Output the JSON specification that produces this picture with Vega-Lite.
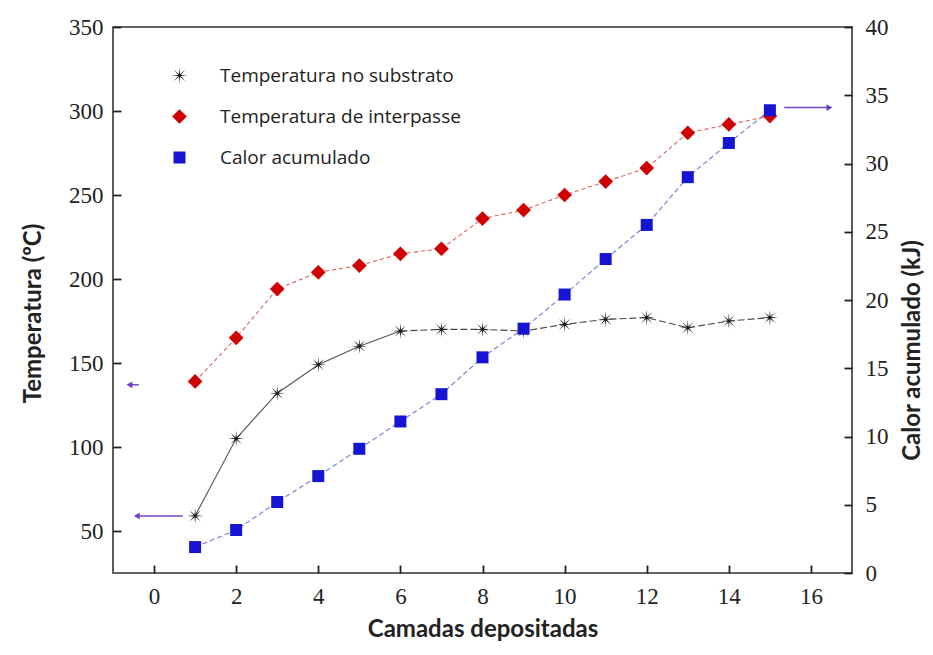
{
  "$schema": "https://vega.github.io/schema/vega-lite/v6.json",
  "width": 739,
  "height": 546,
  "autosize": {"type": "none"},
  "padding": {"left": 113, "top": 27, "right": 81, "bottom": 82},
  "background": "white",
  "config": {
    "view": {"stroke": "#333", "strokeWidth": 1.6},
    "axis": {
      "grid": false,
      "domain": false,
      "ticks": true,
      "offset": -8,
      "tickColor": "#222",
      "tickOpacity": 1,
      "tickWidth": 1.8,
      "tickSize": 8,
      "labelFont": "Liberation Serif",
      "labelFontSize": 23,
      "labelColor": "#222",
      "titleFont": "Lato",
      "titleFontWeight": "bold",
      "titleFontSize": 24,
      "titleColor": "#222"
    }
  },
  "datasets": {
    "medicoes": [
      {"camada": 1, "serie": "Temperatura no substrato", "valor": 59},
      {"camada": 2, "serie": "Temperatura no substrato", "valor": 105},
      {"camada": 3, "serie": "Temperatura no substrato", "valor": 132},
      {"camada": 4, "serie": "Temperatura no substrato", "valor": 149},
      {"camada": 5, "serie": "Temperatura no substrato", "valor": 160},
      {"camada": 6, "serie": "Temperatura no substrato", "valor": 169},
      {"camada": 7, "serie": "Temperatura no substrato", "valor": 170},
      {"camada": 8, "serie": "Temperatura no substrato", "valor": 170},
      {"camada": 9, "serie": "Temperatura no substrato", "valor": 169},
      {"camada": 10, "serie": "Temperatura no substrato", "valor": 173},
      {"camada": 11, "serie": "Temperatura no substrato", "valor": 176},
      {"camada": 12, "serie": "Temperatura no substrato", "valor": 177},
      {"camada": 13, "serie": "Temperatura no substrato", "valor": 171},
      {"camada": 14, "serie": "Temperatura no substrato", "valor": 175},
      {"camada": 15, "serie": "Temperatura no substrato", "valor": 177},
      {"camada": 1, "serie": "Temperatura de interpasse", "valor": 139},
      {"camada": 2, "serie": "Temperatura de interpasse", "valor": 165},
      {"camada": 3, "serie": "Temperatura de interpasse", "valor": 194},
      {"camada": 4, "serie": "Temperatura de interpasse", "valor": 204},
      {"camada": 5, "serie": "Temperatura de interpasse", "valor": 208},
      {"camada": 6, "serie": "Temperatura de interpasse", "valor": 215},
      {"camada": 7, "serie": "Temperatura de interpasse", "valor": 218},
      {"camada": 8, "serie": "Temperatura de interpasse", "valor": 236},
      {"camada": 9, "serie": "Temperatura de interpasse", "valor": 241},
      {"camada": 10, "serie": "Temperatura de interpasse", "valor": 250},
      {"camada": 11, "serie": "Temperatura de interpasse", "valor": 258},
      {"camada": 12, "serie": "Temperatura de interpasse", "valor": 266},
      {"camada": 13, "serie": "Temperatura de interpasse", "valor": 287},
      {"camada": 14, "serie": "Temperatura de interpasse", "valor": 292},
      {"camada": 15, "serie": "Temperatura de interpasse", "valor": 297},
      {"camada": 1, "serie": "Calor acumulado", "valor": 1.9},
      {"camada": 2, "serie": "Calor acumulado", "valor": 3.15},
      {"camada": 3, "serie": "Calor acumulado", "valor": 5.2},
      {"camada": 4, "serie": "Calor acumulado", "valor": 7.1},
      {"camada": 5, "serie": "Calor acumulado", "valor": 9.1},
      {"camada": 6, "serie": "Calor acumulado", "valor": 11.1},
      {"camada": 7, "serie": "Calor acumulado", "valor": 13.1},
      {"camada": 8, "serie": "Calor acumulado", "valor": 15.8},
      {"camada": 9, "serie": "Calor acumulado", "valor": 17.9},
      {"camada": 10, "serie": "Calor acumulado", "valor": 20.4},
      {"camada": 11, "serie": "Calor acumulado", "valor": 23.0},
      {"camada": 12, "serie": "Calor acumulado", "valor": 25.5},
      {"camada": 13, "serie": "Calor acumulado", "valor": 29.0},
      {"camada": 14, "serie": "Calor acumulado", "valor": 31.5},
      {"camada": 15, "serie": "Calor acumulado", "valor": 33.9}
    ],
    "setas": [
      {"camada": 0.7, "camada_fim": -0.42, "valor": 59, "eixo": "temp"},
      {"camada": -0.37, "camada_fim": -0.6, "valor": 137, "eixo": "temp"},
      {"camada": 15.35, "camada_fim": 16.45, "valor": 34.1, "eixo": "calor"}
    ]
  },
  "layer": [
    {
      "encoding": {
        "x": {"field": "camada", "type": "quantitative", "scale": {"domain": [-1, 17], "nice": false, "zero": false}, "axis": {"title": "Camadas depositadas", "values": [0, 2, 4, 6, 8, 10, 12, 14, 16], "labelPadding": 12, "titlePadding": 9}},
        "y": {"field": "valor", "type": "quantitative", "scale": {"domain": [25, 350], "nice": false, "zero": false}, "axis": {"orient": "left", "title": "Temperatura  (ºC)", "titleX": -88, "titleY": 286, "titleAngle": 270, "titleAlign": "center", "titleBaseline": "middle", "values": [50, 100, 150, 200, 250, 300, 350], "labelPadding": 10}}
      },
      "layer": [
        {
          "data": {"name": "medicoes"},
          "transform": [{"filter": "datum.serie === 'Temperatura no substrato' && datum.camada <= 6"}],
          "mark": {"type": "line", "color": "#555", "strokeWidth": 1.1}
        },
        {
          "data": {"name": "medicoes"},
          "transform": [{"filter": "datum.serie === 'Temperatura no substrato' && datum.camada >= 6"}],
          "mark": {"type": "line", "color": "#444", "strokeWidth": 1.1, "strokeDash": [7, 3]}
        },
        {
          "data": {"name": "medicoes"},
          "transform": [{"filter": "datum.serie === 'Temperatura de interpasse'"}],
          "mark": {"type": "line", "color": "#e06060", "strokeWidth": 1.1, "strokeDash": [4, 3]}
        },
        {
          "data": {"name": "setas"},
          "transform": [{"filter": "datum.eixo === 'temp'"}],
          "mark": {"type": "rule", "color": "#7048d0", "strokeWidth": 1.5},
          "encoding": {"x2": {"field": "camada_fim"}}
        },
        {
          "data": {"name": "setas"},
          "transform": [{"filter": "datum.eixo === 'temp'"}],
          "mark": {"type": "point", "shape": "triangle-left", "filled": true, "color": "#6a3cc8", "size": 45, "opacity": 1},
          "encoding": {"x": {"field": "camada_fim", "type": "quantitative"}}
        },
        {
          "data": {"name": "medicoes"},
          "transform": [{"filter": "datum.serie !== 'Calor acumulado'"}],
          "mark": {"type": "point", "filled": true, "opacity": 1, "size": 256},
          "encoding": {
            "color": {"field": "serie", "type": "nominal", "scale": {"domain": ["Temperatura no substrato", "Temperatura de interpasse", "Calor acumulado"], "range": ["#1a1a1a", "#d00000", "#1414d2"]}, "legend": {"orient": "none", "legendX": 57, "legendY": 39, "title": null, "padding": 0, "labelFont": "Open Sans", "labelFontSize": 19, "labelColor": "#222", "labelLimit": 400, "labelOffset": 31, "rowPadding": 21, "symbolSize": 256, "symbolStrokeWidth": 0}},
            "shape": {"field": "serie", "type": "nominal", "scale": {"domain": ["Temperatura no substrato", "Temperatura de interpasse", "Calor acumulado"], "range": ["M1,0L0.166,0.069L0.707,0.707L0.069,0.166L0,1L-0.069,0.166L-0.707,0.707L-0.166,0.069L-1,0L-0.166,-0.069L-0.707,-0.707L-0.069,-0.166L0,-1L0.069,-0.166L0.707,-0.707L0.166,-0.069Z", "M0,-0.92L0.92,0L0,0.92L-0.92,0Z", "M-0.75,-0.75L0.75,-0.75L0.75,0.75L-0.75,0.75Z"]}, "legend": {"orient": "none", "legendX": 57, "legendY": 39, "title": null, "padding": 0, "labelFont": "Open Sans", "labelFontSize": 19, "labelColor": "#222", "labelLimit": 400, "labelOffset": 31, "rowPadding": 21, "symbolSize": 256, "symbolStrokeWidth": 0}}
          }
        }
      ]
    },
    {
      "encoding": {
        "x": {"field": "camada", "type": "quantitative", "scale": {"domain": [-1, 17], "nice": false, "zero": false}, "axis": {"title": "Camadas depositadas", "values": [0, 2, 4, 6, 8, 10, 12, 14, 16], "labelPadding": 12, "titlePadding": 9}},
        "y": {"field": "valor", "type": "quantitative", "scale": {"domain": [0, 40], "nice": false}, "axis": {"orient": "right", "title": "Calor acumulado (kJ)", "titleAngle": 270, "titleX": 68, "titleY": 323, "titleAlign": "center", "titleBaseline": "middle", "values": [0, 5, 10, 15, 20, 25, 30, 35, 40], "labelPadding": 13}}
      },
      "layer": [
        {
          "data": {"name": "medicoes"},
          "transform": [{"filter": "datum.serie === 'Calor acumulado'"}],
          "mark": {"type": "line", "color": "#8080e0", "strokeWidth": 1.2, "strokeDash": [5, 3]}
        },
        {
          "data": {"name": "setas"},
          "transform": [{"filter": "datum.eixo === 'calor'"}],
          "mark": {"type": "rule", "color": "#7048d0", "strokeWidth": 1.5},
          "encoding": {"x2": {"field": "camada_fim"}}
        },
        {
          "data": {"name": "setas"},
          "transform": [{"filter": "datum.eixo === 'calor'"}],
          "mark": {"type": "point", "shape": "triangle-right", "filled": true, "color": "#6a3cc8", "size": 45, "opacity": 1},
          "encoding": {"x": {"field": "camada_fim", "type": "quantitative"}}
        },
        {
          "data": {"name": "medicoes"},
          "transform": [{"filter": "datum.serie === 'Calor acumulado'"}],
          "mark": {"type": "point", "filled": true, "opacity": 1, "size": 256},
          "encoding": {
            "color": {"field": "serie", "type": "nominal", "scale": {"domain": ["Temperatura no substrato", "Temperatura de interpasse", "Calor acumulado"], "range": ["#1a1a1a", "#d00000", "#1414d2"]}, "legend": {"orient": "none", "legendX": 57, "legendY": 39, "title": null, "padding": 0, "labelFont": "Open Sans", "labelFontSize": 19, "labelColor": "#222", "labelLimit": 400, "labelOffset": 31, "rowPadding": 21, "symbolSize": 256, "symbolStrokeWidth": 0}},
            "shape": {"field": "serie", "type": "nominal", "scale": {"domain": ["Temperatura no substrato", "Temperatura de interpasse", "Calor acumulado"], "range": ["M1,0L0.166,0.069L0.707,0.707L0.069,0.166L0,1L-0.069,0.166L-0.707,0.707L-0.166,0.069L-1,0L-0.166,-0.069L-0.707,-0.707L-0.069,-0.166L0,-1L0.069,-0.166L0.707,-0.707L0.166,-0.069Z", "M0,-0.92L0.92,0L0,0.92L-0.92,0Z", "M-0.75,-0.75L0.75,-0.75L0.75,0.75L-0.75,0.75Z"]}, "legend": {"orient": "none", "legendX": 57, "legendY": 39, "title": null, "padding": 0, "labelFont": "Open Sans", "labelFontSize": 19, "labelColor": "#222", "labelLimit": 400, "labelOffset": 31, "rowPadding": 21, "symbolSize": 256, "symbolStrokeWidth": 0}}
          }
        }
      ]
    }
  ],
  "resolve": {"scale": {"y": "independent"}}
}
